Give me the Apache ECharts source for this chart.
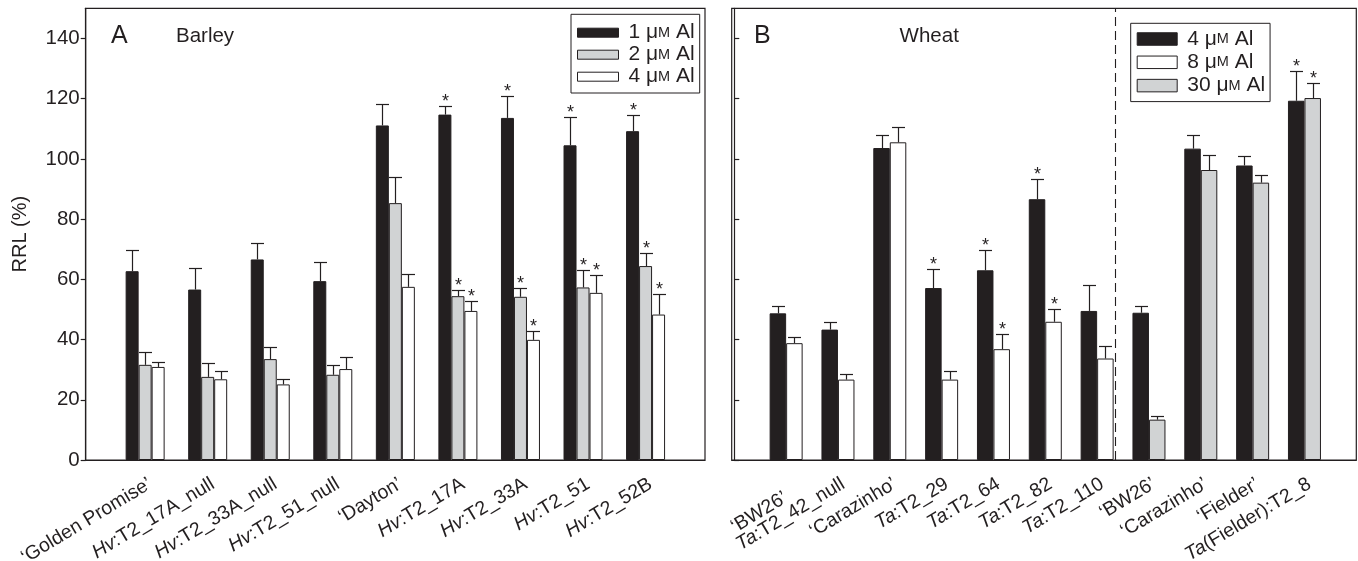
<!DOCTYPE html>
<html><head><meta charset="utf-8">
<script src="https://cdn.jsdelivr.net/npm/echarts@6/dist/echarts.min.js"></script>
<style>html,body{margin:0;padding:0;background:#fff}#c{width:1358px;height:561px}</style>
</head><body><div id="c"></div>
<script>
// ---------- DATA ----------
const barleyCats = ['\u2018Golden Promise\u2019', 'Hv:T2_17A_null', 'Hv:T2_33A_null', 'Hv:T2_51_null', '\u2018Dayton\u2019', 'Hv:T2_17A', 'Hv:T2_33A', 'Hv:T2_51', 'Hv:T2_52B'];
const barley1 = [62.7, 56.6, 66.6, 59.4, 111.1, 114.7, 113.6, 104.5, 109.2];
const barley1Err = [7.0, 7.2, 5.3, 6.3, 7.1, 3.0, 7.2, 9.3, 5.5];
const barley1Sig = [0, 0, 0, 0, 0, 1, 1, 1, 1];
const barley2 = [31.6, 27.6, 33.5, 28.3, 85.3, 54.4, 54.2, 57.3, 64.4];
const barley2Err = [4.2, 4.5, 3.9, 3.2, 8.7, 2.0, 3.0, 5.8, 4.4];
const barley2Sig = [0, 0, 0, 0, 0, 1, 1, 1, 1];
const barley4 = [30.9, 26.8, 25.1, 30.2, 57.5, 49.5, 39.9, 55.5, 48.3];
const barley4Err = [1.7, 2.8, 1.9, 3.9, 4.4, 3.2, 3.1, 5.8, 6.7];
const barley4Sig = [0, 0, 0, 0, 0, 1, 1, 1, 1];

const wheatCats = ['\u2018BW26\u2019', 'Ta:T2_42_null', '\u2018Carazinho\u2019', 'Ta:T2_29', 'Ta:T2_64', 'Ta:T2_82', 'Ta:T2_110', '\u2018BW26\u2019', '\u2018Carazinho\u2019', '\u2018Fielder\u2019', 'Ta(Fielder):T2_8'];
const wheat4 = [48.7, 43.3, 103.6, 57.1, 63.0, 86.6, 49.5, 48.9, 103.4, 97.8, 119.3];
const wheat4Err = [2.5, 2.5, 4.2, 6.4, 6.8, 6.6, 8.7, 2.2, 4.4, 3.1, 9.9];
const wheat4Sig = [0, 0, 0, 1, 1, 1, 0, 0, 0, 0, 1];
const wheat8 = [38.8, 26.7, 105.5, 26.7, 36.8, 45.9, 33.7];          // first 7 lines
const wheat8Err = [1.9, 1.7, 5.0, 3.0, 5.2, 4.1, 4.0];
const wheat8Sig = [0, 0, 0, 0, 1, 1, 0];
const wheat30 = [13.4, 96.3, 92.1, 120.2];                            // last 4 lines
const wheat30Err = [1.1, 4.9, 2.7, 5.1];
const wheat30Sig = [0, 0, 0, 1];
const wheatSplit = 7;            // number of lines in the left (4/8 uM) block
const yTicks = [0, 20, 40, 60, 80, 100, 120, 140];
const legendA = ['1', '2', '4'];     // uM Al, panel A
const legendB = ['4', '8', '30'];    // uM Al, panel B

// ---------- STYLE ----------
const FONT = "'Liberation Sans', Arial, Helvetica, sans-serif";
const INK = '#231f20';
const GREY = '#d1d3d4';
const legendNames = {A1: legendA[0], A2: legendA[1], A4: legendA[2], B4: legendB[0], B8: legendB[1], B30: legendB[2]};

function fmtCat(s) {
  if (!s) return '';
  const m = s.match(/^(Hv|Ta)(.*)$/);
  if (m) return '{i|' + m[1] + '}{n|' + m[2] + '}';
  return '{n|' + s + '}';
}
const CF = 19.5;
const catRich = {
  i: {fontStyle: 'italic', fontSize: CF, fontFamily: FONT, color: INK},
  n: {fontSize: CF, fontFamily: FONT, color: INK},
  bw: {fontSize: CF, fontFamily: FONT, color: INK, padding: [9, 12, 0, 0]}
};

function idx(arr, start) { return arr.map((v, i) => [i + 1 + (start || 0), v]); }
// label positions: one per line, plus empty end slots so no real label is treated as the axis min/max label
function labelSlots(cats) { const a = [0]; cats.forEach((c, i) => a.push(i + 1)); a.push(cats.length + 1); return a; }

function errSeries(xi, yi, vals, errs, sig, start, offsetPx) {
  return {
    type: 'custom', xAxisIndex: xi, yAxisIndex: yi, silent: true, z: 5, clip: false,
    data: vals.map((v, i) => [i + 1 + start, v, v + errs[i], sig[i]]),
    encode: {x: 0, y: [1, 2]},
    renderItem: function (params, api) {
      const x = api.value(0), m = api.value(1), t = api.value(2), s = api.value(3);
      const p0 = api.coord([x, m]), p1 = api.coord([x, t]);
      const cx = Math.round(p0[0] + offsetPx) + 0.5;
      const ty = Math.round(p1[1]) + 0.5;
      const st = {stroke: INK, lineWidth: 1.2};
      const ch = [
        {type: 'line', shape: {x1: cx, y1: p0[1], x2: cx, y2: ty}, style: st},
        {type: 'line', shape: {x1: cx - 6.5, y1: ty, x2: cx + 6.5, y2: ty}, style: st}
      ];
      if (s) ch.push({type: 'text', x: cx, y: ty - 4, style: {text: '*', fontSize: 18, fontFamily: FONT, fill: INK, align: 'center', verticalAlign: 'middle'}});
      return {type: 'group', children: ch};
    }
  };
}

function bar(name, xi, yi, data, color, w) {
  return {
    name: name, type: 'bar', xAxisIndex: xi, yAxisIndex: yi, data: data,
    barWidth: w, barGap: '0%', silent: true,
    itemStyle: {color: color, borderColor: INK, borderWidth: 1}
  };
}

const WA = 13, WB = 16.5;
const LF = 21;
const legendText = {fontSize: LF, lineHeight: 22, fontFamily: FONT, color: INK, padding: [0, 0, 0, 5],
  rich: {t: {fontSize: LF, fontFamily: FONT, color: INK}, s: {fontSize: 14.5, fontFamily: FONT, color: INK}}};
const legendFmt = n => '{t|' + legendNames[n] + ' \u03bc}{s|M}{t| Al}';

const catLabel = {rotate: 31, margin: 14, align: 'right', verticalAlign: 'top', hideOverlap: false, rich: catRich};

const option = {
  animation: false,
  backgroundColor: '#fff',
  grid: [
    {left: 85.7, top: 8.3, width: 619.3, height: 451.7, show: true, borderColor: INK, borderWidth: 1.2, containLabel: false, outerBoundsMode: 'none'},
    {left: 731.7, top: 8.3, width: 624.6, height: 451.7, show: true, borderColor: INK, borderWidth: 1.2, containLabel: false, outerBoundsMode: 'none'}
  ],
  xAxis: [
    {gridIndex: 0, type: 'value', min: 0.05, max: 9.95, splitLine: {show: false},
      axisLine: {lineStyle: {color: INK, width: 1.2}}, axisTick: {show: false},
      axisLabel: Object.assign({customValues: labelSlots(barleyCats),
        formatter: v => fmtCat(barleyCats[Math.round(v) - 1])}, catLabel)},
    {gridIndex: 1, type: 'value', min: -0.05, max: 12, splitLine: {show: false},
      axisLine: {lineStyle: {color: INK, width: 1.2}}, axisTick: {show: false},
      axisLabel: Object.assign({customValues: labelSlots(wheatCats),
        formatter: v => { const i = Math.round(v) - 1; return i === 0 ? '{bw|' + wheatCats[0] + '}' : fmtCat(wheatCats[i]); }}, catLabel)},
    {gridIndex: 1, type: 'value', min: -0.05, max: 12, show: false, splitLine: {show: false}}
  ],
  yAxis: [
    {gridIndex: 0, type: 'value', min: 0, max: 150, interval: 20, splitLine: {show: false},
      name: 'RRL (%)', nameLocation: 'middle', nameGap: 55,
      nameTextStyle: {fontSize: 20, fontFamily: FONT, color: INK},
      axisLine: {show: true, lineStyle: {color: INK, width: 1.2}},
      axisTick: {show: true, length: 5, lineStyle: {color: INK, width: 1.2}, customValues: yTicks},
      axisLabel: {fontSize: 20.5, fontFamily: FONT, color: INK, margin: 6, customValues: yTicks}},
    {gridIndex: 1, type: 'value', min: 0, max: 150, interval: 20, splitLine: {show: false},
      axisLine: {show: true, lineStyle: {color: INK, width: 1.2}},
      axisTick: {show: true, inside: true, length: 5, lineStyle: {color: INK, width: 1.2}, customValues: yTicks},
      axisLabel: {show: false}}
  ],
  legend: [
    {left: 571, top: 14.3, orient: 'vertical', data: ['A1', 'A2', 'A4'], icon: 'rect', itemWidth: 41, itemHeight: 9,
      itemGap: 0, borderColor: INK, borderWidth: 1, padding: [7.4, 5, 5.3, 6], selectedMode: false,
      itemStyle: {borderColor: INK, borderWidth: 1}, formatter: legendFmt, textStyle: legendText},
    {left: 1130.7, top: 23.3, orient: 'vertical', data: ['B4', 'B8', 'B30'], icon: 'rect', itemWidth: 40, itemHeight: 12.5,
      itemGap: 1.3, borderColor: INK, borderWidth: 1, padding: [4.7, 5, 5, 6], selectedMode: false,
      itemStyle: {borderColor: INK, borderWidth: 1}, formatter: legendFmt, textStyle: legendText}
  ],
  graphic: [
    {type: 'text', left: 111, top: 23.5, style: {text: 'A', fontSize: 25, fontFamily: FONT, fill: INK}},
    {type: 'text', left: 176, top: 26, style: {text: 'Barley', fontSize: 20.5, fontFamily: FONT, fill: INK}},
    {type: 'text', left: 754, top: 23.5, style: {text: 'B', fontSize: 25, fontFamily: FONT, fill: INK}},
    {type: 'text', left: 899.6, top: 26, style: {text: 'Wheat', fontSize: 20.5, fontFamily: FONT, fill: INK}}
  ],
  series: [
    bar('A1', 0, 0, idx(barley1), INK, WA),
    bar('A2', 0, 0, idx(barley2), GREY, WA),
    bar('A4', 0, 0, idx(barley4), '#ffffff', WA),
    errSeries(0, 0, barley1, barley1Err, barley1Sig, 0, -WA),
    errSeries(0, 0, barley2, barley2Err, barley2Sig, 0, 0),
    errSeries(0, 0, barley4, barley4Err, barley4Sig, 0, WA),

    Object.assign(bar('B4', 1, 1, idx(wheat4.slice(0, wheatSplit)), INK, WB), {
      markLine: {silent: true, symbol: ['none', 'none'], label: {show: false},
        lineStyle: {color: INK, type: [9, 5], width: 1.1}, data: [{xAxis: wheatSplit + 0.5}]}}),
    bar('B8', 1, 1, idx(wheat8), '#ffffff', WB),
    bar('B4', 2, 1, idx(wheat4.slice(wheatSplit), wheatSplit), INK, WB),
    bar('B30', 2, 1, idx(wheat30, wheatSplit), GREY, WB),
    errSeries(1, 1, wheat4.slice(0, wheatSplit), wheat4Err.slice(0, wheatSplit), wheat4Sig.slice(0, wheatSplit), 0, -WB / 2),
    errSeries(1, 1, wheat8, wheat8Err, wheat8Sig, 0, WB / 2),
    errSeries(2, 1, wheat4.slice(wheatSplit), wheat4Err.slice(wheatSplit), wheat4Sig.slice(wheatSplit), wheatSplit, -WB / 2),
    errSeries(2, 1, wheat30, wheat30Err, wheat30Sig, wheatSplit, WB / 2)
  ]
};
const chart = echarts.init(document.getElementById('c'), null, {renderer: 'canvas'});
chart.setOption(option);
</script>
</body></html>
